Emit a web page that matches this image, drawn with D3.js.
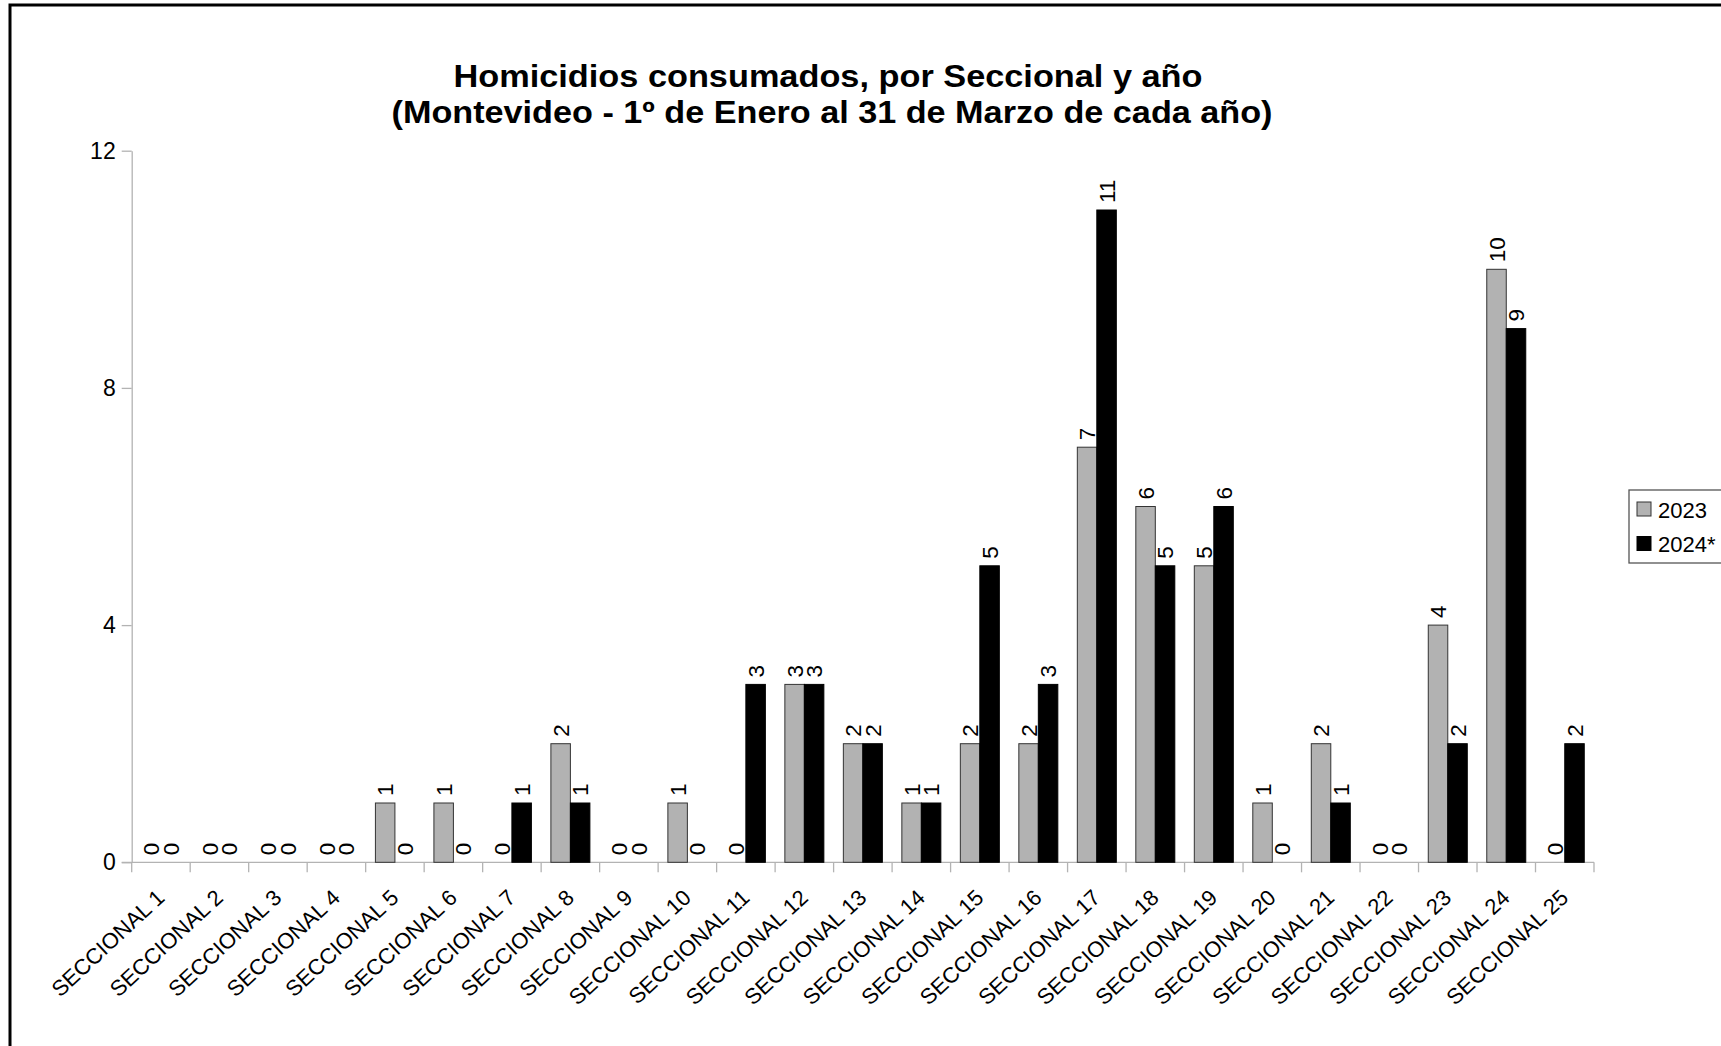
<!DOCTYPE html>
<html>
<head>
<meta charset="utf-8">
<script src="https://cdn.jsdelivr.net/npm/d3@7"></script>
<style>
  html, body { margin: 0; padding: 0; background: #fff; overflow: hidden; }
  svg { display: block; font-family: "Liberation Sans", Arial, sans-serif; }
</style>
</head>
<body>
<svg id="chart" width="1721" height="1046"></svg>
<script>
const categories = ["SECCIONAL 1","SECCIONAL 2","SECCIONAL 3","SECCIONAL 4","SECCIONAL 5","SECCIONAL 6","SECCIONAL 7","SECCIONAL 8","SECCIONAL 9","SECCIONAL 10","SECCIONAL 11","SECCIONAL 12","SECCIONAL 13","SECCIONAL 14","SECCIONAL 15","SECCIONAL 16","SECCIONAL 17","SECCIONAL 18","SECCIONAL 19","SECCIONAL 20","SECCIONAL 21","SECCIONAL 22","SECCIONAL 23","SECCIONAL 24","SECCIONAL 25"];
const seriesNames = ["2023", "2024*"];
const values2023 = [0,0,0,0,1,1,0,2,0,1,0,3,2,1,2,2,7,6,5,1,2,0,4,10,0];
const values2024 = [0,0,0,0,0,0,1,1,0,0,3,3,2,1,5,3,11,5,6,0,1,0,2,9,2];
const yTicks = [0,4,8,12];
const titleLines = ["Homicidios consumados, por Seccional y año", "(Montevideo - 1º de Enero al 31 de Marzo de cada año)"];

const colors = {"2023": "#b2b2b2", "2024*": "#000000"};
const strokes = {"2023": "#333333", "2024*": "#000000"};

const svg = d3.select("#chart");

// outer border
svg.append("rect").attr("x", 10).attr("y", 5).attr("width", 1730).attr("height", 1060)
  .attr("fill", "none").attr("stroke", "#000").attr("stroke-width", 3);

const plotL = 131.7, plotR = 1594, plotT = 150.7, plotB = 862.3;

const x = d3.scaleBand().domain(categories).range([plotL, plotR]).padding(0);
const bw = x.bandwidth();
const xs = d3.scaleBand().domain(seriesNames).range([bw/6, bw*5/6]).padding(0);
const y = d3.scaleLinear().domain([0, 12]).range([plotB, plotT]);

// title
const titleLayout = [{cx: 828, base: 87, len: 749}, {cx: 832, base: 123, len: 881}];
svg.selectAll(".title").data(titleLines).join("text").attr("class", "title")
  .attr("x", (d, i) => titleLayout[i].cx).attr("y", (d, i) => titleLayout[i].base)
  .attr("text-anchor", "middle").attr("font-weight", "bold").attr("font-size", 31)
  .attr("textLength", (d, i) => titleLayout[i].len).attr("lengthAdjust", "spacingAndGlyphs")
  .attr("fill", "#000").text(d => d);

// y axis
const yAxis = d3.axisLeft(y).tickValues(yTicks).tickSize(10).tickSizeOuter(0).tickPadding(6);
const gy = svg.append("g").attr("transform", `translate(${plotL},0)`).call(yAxis);
gy.select(".domain").attr("stroke", "#b3b3b3").attr("stroke-width", 1.3);
gy.selectAll(".tick line").attr("stroke", "#b3b3b3").attr("stroke-width", 1.3);
gy.selectAll(".tick text").attr("font-size", 23).attr("fill", "#000")
  .attr("font-family", "Liberation Sans, Arial, sans-serif");

// x axis line
svg.append("line").attr("x1", plotL - 10).attr("x2", plotR).attr("y1", plotB).attr("y2", plotB)
  .attr("stroke", "#b3b3b3").attr("stroke-width", 1.3);
// x boundary ticks
const boundaries = categories.map(c => x(c)).concat([x(categories[categories.length-1]) + bw]);
svg.selectAll(".xtick").data(boundaries).join("line").attr("class", "xtick")
  .attr("x1", d => d).attr("x2", d => d).attr("y1", plotB).attr("y2", plotB + 10)
  .attr("stroke", "#b3b3b3").attr("stroke-width", 1.3);

// x labels
svg.selectAll(".xlab").data(categories).join("text").attr("class", "xlab")
  .attr("transform", d => `translate(${x(d) + bw/2 + 5},${plotB + 37}) rotate(-43)`)
  .attr("text-anchor", "end").attr("font-size", 22).attr("fill", "#000").text(d => d);

// bars
const rows = categories.map((c, i) => ({cat: c, vals: [
  {s: "2023", v: values2023[i]}, {s: "2024*", v: values2024[i]}]}));
const groups = svg.selectAll(".grp").data(rows).join("g").attr("class", "grp")
  .attr("transform", d => `translate(${x(d.cat)},0)`);
groups.selectAll("rect").data(d => d.vals).join("rect")
  .attr("x", d => xs(d.s)).attr("width", xs.bandwidth())
  .attr("y", d => y(d.v)).attr("height", d => y(0) - y(d.v))
  .attr("fill", d => colors[d.s]).attr("stroke", d => strokes[d.s]).attr("stroke-width", 1);
groups.selectAll("text").data(d => d.vals).join("text")
  .attr("transform", d => `translate(${xs(d.s) + xs.bandwidth()/2},${y(d.v) - 7}) rotate(-90)`)
  .attr("dy", "0.36em").attr("text-anchor", "start").attr("font-size", 22.5).attr("fill", "#000")
  .text(d => d.v);

// legend
const lg = svg.append("g");
lg.append("rect").attr("x", 1629).attr("y", 490).attr("width", 100).attr("height", 73)
  .attr("fill", "#fff").attr("stroke", "#555").attr("stroke-width", 1.3);
const items = lg.selectAll(".li").data(seriesNames).join("g").attr("class", "li")
  .attr("transform", (d, i) => `translate(1637,${502 + i * 34.5})`);
items.append("rect").attr("width", 14).attr("height", 14)
  .attr("fill", d => colors[d]).attr("stroke", d => strokes[d]).attr("stroke-width", 1);
items.append("text").attr("x", 21).attr("y", 15.5)
  .attr("font-size", 22).attr("fill", "#000").text(d => d);
</script>
</body>
</html>
